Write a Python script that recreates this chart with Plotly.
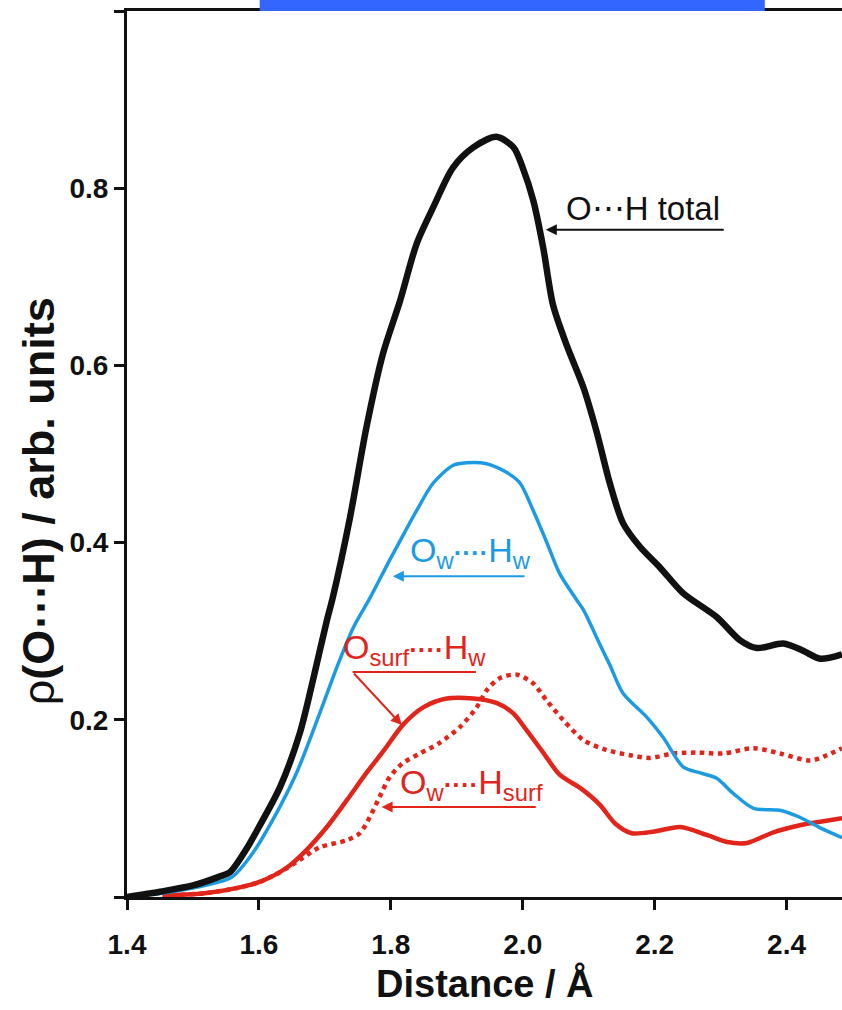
import plotly.graph_objects as go

# ---------------- data ----------------
x_total = [1.40, 1.45, 1.50, 1.54, 1.556, 1.58, 1.60, 1.632, 1.662, 1.682, 1.703, 1.712,
           1.738, 1.763, 1.788, 1.814, 1.839, 1.864, 1.894, 1.925, 1.96, 1.986, 2.000,
           2.016, 2.031, 2.046, 2.067, 2.092, 2.112, 2.132, 2.152, 2.178, 2.208, 2.243,
           2.294, 2.329, 2.355, 2.395, 2.425, 2.451, 2.484]
y_total = [0.000, 0.006, 0.013, 0.023, 0.028, 0.053, 0.079, 0.124, 0.185, 0.245, 0.312, 0.338,
           0.428, 0.530, 0.613, 0.673, 0.737, 0.778, 0.823, 0.846, 0.858, 0.846, 0.823,
           0.786, 0.733, 0.668, 0.622, 0.575, 0.525, 0.467, 0.422, 0.395, 0.372, 0.343,
           0.316, 0.290, 0.281, 0.286, 0.278, 0.269, 0.274]

x_ww = [1.40, 1.45, 1.50, 1.54, 1.56, 1.591, 1.621, 1.657, 1.692, 1.718, 1.743, 1.768,
        1.798, 1.814, 1.839, 1.864, 1.894, 1.915, 1.945, 1.976, 1.996, 2.016, 2.036,
        2.056, 2.082, 2.092, 2.117, 2.132, 2.152, 2.188, 2.213, 2.243, 2.269, 2.294,
        2.319, 2.350, 2.390, 2.420, 2.451, 2.484]
y_ww = [0.001, 0.004, 0.010, 0.017, 0.023, 0.050, 0.087, 0.140, 0.207, 0.259, 0.304, 0.337,
        0.380, 0.402, 0.436, 0.467, 0.487, 0.490, 0.489, 0.479, 0.467, 0.436, 0.401,
        0.365, 0.335, 0.324, 0.285, 0.262, 0.230, 0.203, 0.180, 0.147, 0.140, 0.134,
        0.117, 0.100, 0.098, 0.090, 0.078, 0.067]

x_surfw = [1.454, 1.515, 1.566, 1.601, 1.642, 1.672, 1.703, 1.733, 1.763, 1.790, 1.818,
           1.849, 1.885, 1.925, 1.960, 1.986, 2.006, 2.031, 2.056, 2.089, 2.117, 2.140,
           2.165, 2.200, 2.239, 2.279, 2.310, 2.340, 2.380, 2.420, 2.451, 2.484]
y_surfw = [0.002, 0.004, 0.010, 0.017, 0.033, 0.053, 0.079, 0.109, 0.140, 0.166, 0.194,
           0.214, 0.224, 0.224, 0.219, 0.207, 0.188, 0.163, 0.138, 0.122, 0.104, 0.083,
           0.072, 0.074, 0.079, 0.070, 0.062, 0.061, 0.073, 0.081, 0.085, 0.089]

x_wsurf = [1.454, 1.515, 1.566, 1.601, 1.632, 1.662, 1.692, 1.733, 1.753, 1.768, 1.783,
           1.798, 1.818, 1.844, 1.874, 1.905, 1.930, 1.945, 1.965, 1.991, 2.016, 2.036,
           2.061, 2.092, 2.127, 2.163, 2.193, 2.228, 2.264, 2.304, 2.350, 2.390, 2.436,
           2.461, 2.484]
y_wsurf = [0.002, 0.004, 0.010, 0.017, 0.028, 0.042, 0.056, 0.064, 0.072, 0.090, 0.113,
           0.135, 0.151, 0.162, 0.174, 0.192, 0.214, 0.233, 0.247, 0.251, 0.241, 0.222,
           0.200, 0.177, 0.166, 0.160, 0.157, 0.162, 0.163, 0.162, 0.168, 0.162, 0.154,
           0.160, 0.168]

x_ticks = [1.4, 1.6, 1.8, 2.0, 2.2, 2.4]
x_ticktext = ["1.4", "1.6", "1.8", "2.0", "2.2", "2.4"]
y_ticks = [0.0, 0.2, 0.4, 0.6, 0.8, 1.0]
y_ticktext = ["", "0.2", "0.4", "0.6", "0.8", ""]

BLACK = "#111111"
BLUE = "#1C9BE2"
RED = "#E1251B"
SANS = "Liberation Sans, Arial, sans-serif"

fig = go.Figure()
fig.add_trace(go.Scatter(x=x_wsurf, y=y_wsurf, mode="lines",
                         line=dict(color=RED, width=4.5, dash="dot", shape="spline", smoothing=0.8)))
fig.add_trace(go.Scatter(x=x_surfw, y=y_surfw, mode="lines",
                         line=dict(color=RED, width=4.5, shape="spline", smoothing=0.8)))
fig.add_trace(go.Scatter(x=x_ww, y=y_ww, mode="lines",
                         line=dict(color=BLUE, width=3.5, shape="spline", smoothing=0.8)))
fig.add_trace(go.Scatter(x=x_total, y=y_total, mode="lines",
                         line=dict(color=BLACK, width=6.5, shape="spline", smoothing=0.8)))

ann = []


def arrow(tip_x, tip_y, tail_x, tail_y, color):
    return dict(x=tip_x, y=tip_y, ax=tail_x, ay=tail_y, xref="x", yref="y",
                axref="x", ayref="y", text="", showarrow=True, arrowhead=2,
                arrowsize=1.1, arrowwidth=2, arrowcolor=color, standoff=0)


ann.append(arrow(2.035, 0.753, 2.307, 0.753, BLACK))
ann.append(arrow(1.803, 0.362, 2.005, 0.362, BLUE))
ann.append(arrow(1.8167, 0.194, 1.742, 0.254, RED))
ann.append(arrow(1.786, 0.1016, 2.022, 0.1016, RED))


def label(x, y, text, color, size=34):
    return dict(x=x, y=y, xref="x", yref="y", text=text, showarrow=False,
                xanchor="center", yanchor="bottom",
                font=dict(family=SANS, size=size, color=color))


DOTS = '<span style="font-size:26px"><b>····</b></span>'
ann.append(label(2.182, 0.754, "O⋯H total", BLACK, 33))
ann.append(label(1.921, 0.362, "O<sub>w</sub>" + DOTS + "H<sub>w</sub>", BLUE))
ann.append(label(1.836, 0.253, "O<sub>surf</sub>" + DOTS + "H<sub>w</sub>", RED))
ann.append(label(1.923, 0.101, "O<sub>w</sub>" + DOTS + "H<sub>surf</sub>", RED))

# axis titles
ann.append(dict(xref="paper", yref="paper", x=0.5004, y=-0.098, text="<b>Distance / Å</b>",
                showarrow=False, xanchor="center", yanchor="middle",
                font=dict(family=SANS, size=38, color=BLACK)))
ann.append(dict(xref="paper", yref="paper", x=-0.1225, y=0.447,
                text="ρ<b>(O⋯H) / arb. units</b>", textangle=-90,
                showarrow=False, xanchor="center", yanchor="middle",
                font=dict(family=SANS, size=45, color=BLACK)))

fig.update_layout(
    width=842, height=1010,
    margin=dict(l=127, r=0, t=11, b=113),
    paper_bgcolor="white", plot_bgcolor="white",
    showlegend=False,
    annotations=ann,
    shapes=[
        dict(type="line", xref="x", yref="y",
             x0=1.742, x1=1.929, y0=0.254, y1=0.254, line=dict(color=RED, width=2)),
        dict(type="rect", xref="paper", yref="paper", x0=0.1856, x1=0.892,
             y0=1.0, y1=1.0125, line=dict(width=0), fillcolor="#3366FF"),
    ],
    xaxis=dict(range=[1.4, 2.484], showgrid=False, zeroline=False,
               showline=True, linecolor=BLACK, linewidth=3, mirror=True,
               ticks="outside", ticklen=10, tickwidth=3, tickcolor=BLACK,
               tickvals=x_ticks, ticktext=["<b>%s</b>" % t for t in x_ticktext],
               tickfont=dict(family=SANS, size=28, color=BLACK),
               ticklabelstandoff=10),
    yaxis=dict(range=[0, 1.0], showgrid=False, zeroline=False,
               showline=True, linecolor=BLACK, linewidth=3,
               ticks="outside", ticklen=10, tickwidth=3, tickcolor=BLACK,
               tickvals=y_ticks, ticktext=["<b>%s</b>" % t if t else "" for t in y_ticktext],
               tickfont=dict(family=SANS, size=28, color=BLACK),
               ticklabelstandoff=0),
)

fig.write_html("out.html")
